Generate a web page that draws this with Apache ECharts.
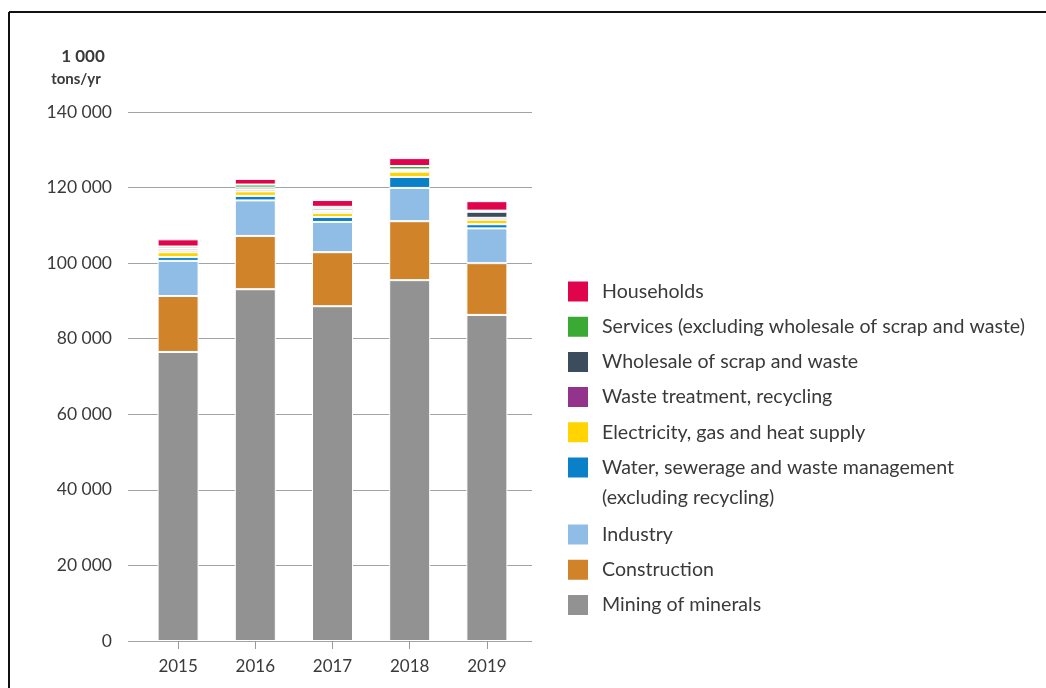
<!DOCTYPE html>
<html>
<head>
<meta charset="utf-8">
<script src="https://cdn.jsdelivr.net/npm/echarts@6/dist/echarts.min.js"></script>
<style>
  html, body { margin: 0; padding: 0; background: #fff; }
  #chart { width: 1046px; height: 688px; }
</style>
</head>
<body>
<div id="chart"></div>
<script>
// Waste generation by sector, 1 000 tons per year
const years = ['2015', '2016', '2017', '2018', '2019'];

const mining         = [76500, 93100, 88600, 95500, 86300];
const construction   = [14800, 14100, 14300, 15600, 13700];
const industry       = [9300, 9400, 8000, 8800, 9200];
const water          = [1000, 1200, 1300, 2900, 1100];
const electricity    = [1300, 1200, 1100, 1400, 1200];
const wasteTreatment = [500, 500, 500, 300, 500];
const wholesale      = [500, 500, 600, 300, 1600];
const services       = [500, 800, 500, 900, 300];
const households     = [1900, 1500, 1800, 2100, 2500];

const yTicks = [0, 20000, 40000, 60000, 80000, 100000, 120000, 140000];

const names = {
  households: 'Households',
  services: 'Services (excluding wholesale of scrap and waste)',
  wholesale: 'Wholesale of scrap and waste',
  wasteTreatment: 'Waste treatment, recycling',
  electricity: 'Electricity, gas and heat supply',
  water: 'Water, sewerage and waste management',
  industry: 'Industry',
  construction: 'Construction',
  mining: 'Mining of minerals'
};
const waterSecondLine = '(excluding recycling)';

const colors = {
  households: '#e0044c',
  services: '#3aaa35',
  wholesale: '#3b4d5c',
  wasteTreatment: '#93338b',
  electricity: '#ffd400',
  water: '#0a80c8',
  industry: '#8fbde6',
  construction: '#d1832a',
  mining: '#929292'
};

// bottom-to-top stacking order
const stackOrder = [
  ['mining', mining],
  ['construction', construction],
  ['industry', industry],
  ['water', water],
  ['electricity', electricity],
  ['wasteTreatment', wasteTreatment],
  ['wholesale', wholesale],
  ['services', services],
  ['households', households]
];

const FONT = 'Lato';
const TEXT = '#3a3a3a';
const fmt = v => String(v).replace(/\B(?=(\d{3})+(?!\d))/g, ' ');

const chart = echarts.init(document.getElementById('chart'), null, { renderer: 'canvas' });

const yMax = yTicks[yTicks.length - 1];
const yStep = yTicks[1] - yTicks[0];

const legendText = { color: TEXT, fontSize: 19.6, fontFamily: FONT, padding: [0, 0, 0, 8] };

chart.setOption({
  backgroundColor: '#fff',
  animation: false,
  textStyle: { fontFamily: FONT },
  grid: [
    { left: 128, right: 514, top: 112, bottom: 47 },     // gridlines + value labels
    { left: 139.5, right: 520.5, top: 112, bottom: 47 }  // bars
  ],
  xAxis: [
    { gridIndex: 0, type: 'category', data: years, show: false },
    {
      gridIndex: 1, type: 'category', data: years,
      axisLine: { show: false },
      axisTick: { show: true, alignWithLabel: true, length: 8, lineStyle: { color: '#9a9a9a', width: 1 } },
      axisLabel: { color: TEXT, fontSize: 17, fontFamily: FONT, margin: 17 }
    }
  ],
  yAxis: [
    {
      gridIndex: 0, type: 'value', min: 0, max: yMax, interval: yStep,
      axisLine: { show: false }, axisTick: { show: false },
      splitLine: { lineStyle: { color: '#a3a3a3', width: 1 } },
      axisLabel: { color: TEXT, fontSize: 17.5, fontFamily: FONT, margin: 16, formatter: v => fmt(v) }
    },
    {
      gridIndex: 1, type: 'value', min: 0, max: yMax, interval: yStep,
      show: false, splitLine: { show: false }
    }
  ],
  legend: [
    {
      orient: 'vertical', left: 566, top: 279.5, padding: 0,
      itemWidth: 22, itemHeight: 22, itemGap: 11.2,
      icon: 'rect', selectedMode: false,
      textStyle: legendText,
      data: ['households', 'services', 'wholesale', 'wasteTreatment', 'electricity', 'water'].map(k => names[k])
    },
    {
      orient: 'vertical', left: 566, top: 522.5, padding: 0,
      itemWidth: 22, itemHeight: 22, itemGap: 11.2,
      icon: 'rect', selectedMode: false,
      textStyle: legendText,
      data: ['industry', 'construction', 'mining'].map(k => names[k])
    }
  ],
  graphic: [
    { type: 'line', shape: { x1: 9, y1: 12, x2: 1046, y2: 12 }, style: { stroke: '#111', lineWidth: 2 } },
    { type: 'line', shape: { x1: 9, y1: 12, x2: 9, y2: 688 }, style: { stroke: '#111', lineWidth: 2 } },
    { type: 'text', x: 83, y: 57, style: { text: '1 000', fill: TEXT, font: 'bold 17px ' + FONT, textAlign: 'center', textVerticalAlign: 'middle' } },
    { type: 'text', x: 76, y: 79, style: { text: 'tons/yr', fill: TEXT, font: 'bold 15px ' + FONT, textAlign: 'center', textVerticalAlign: 'middle' } },
    { type: 'text', x: 602, y: 498, style: { text: waterSecondLine, fill: TEXT, font: '19.6px ' + FONT, textAlign: 'left', textVerticalAlign: 'middle' } }
  ],
  series: stackOrder.map(([key, values]) => ({
    name: names[key],
    type: 'bar',
    stack: 'total',
    xAxisIndex: 1,
    yAxisIndex: 1,
    barWidth: 41,
    itemStyle: { color: colors[key], borderColor: '#fff', borderWidth: 1 },
    emphasis: { disabled: true },
    data: values
  }))
});
</script>
</body>
</html>
